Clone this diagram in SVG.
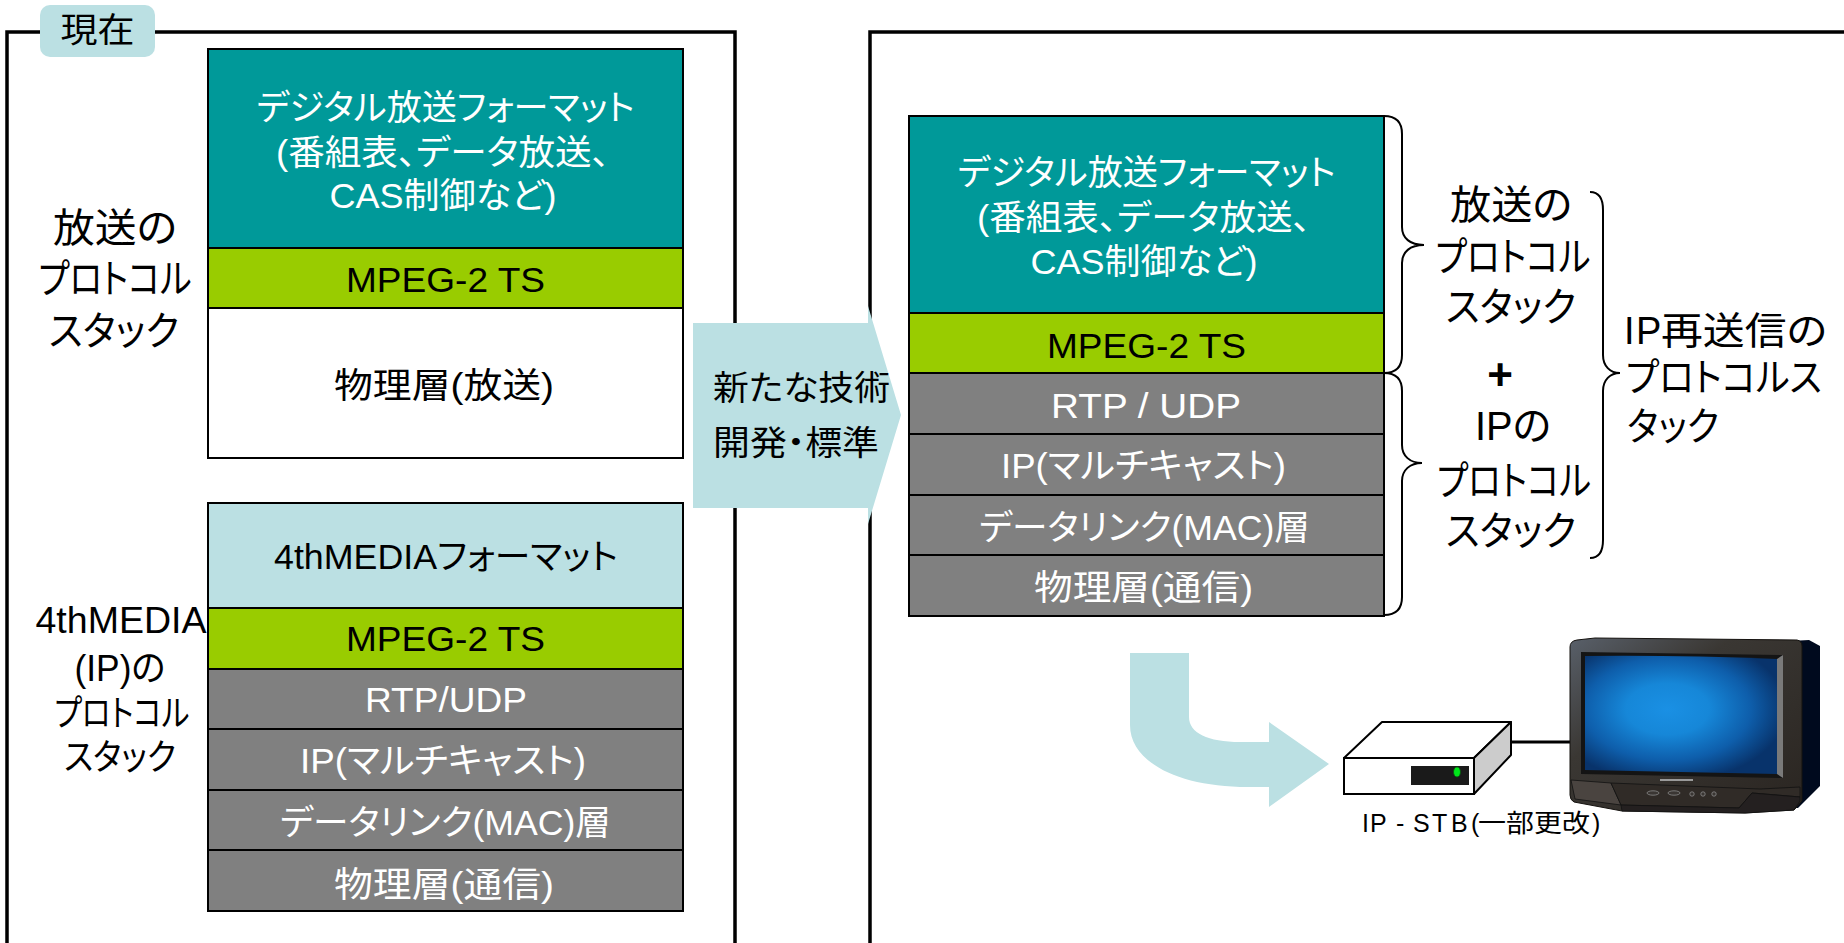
<svg xmlns="http://www.w3.org/2000/svg" width="1844" height="943" viewBox="0 0 1844 943">
  <style>
    text { font-family: "Liberation Sans", "Noto Sans CJK JP", sans-serif; text-anchor: middle; font-feature-settings: "palt"; }
    .st { font-size: 35px; }
    .lb { font-size: 40px; fill: #000; }
    .w { fill: #fff; }
    .k { fill: #000; }
    .start { text-anchor: start; }
    .frame { fill: none; stroke: #000; stroke-width: 3.5; }
    .cell { stroke: #000; stroke-width: 2; }
    .teal { fill: #009999; }
    .green { fill: #99cc00; }
    .gray { fill: #808080; }
    .white { fill: #ffffff; }
    .pale { fill: #bbe0e3; }
    .brace { fill: none; stroke: #000; stroke-width: 2; }
  </style>
  <defs>
    <radialGradient id="screenGrad" cx="0.43" cy="0.45" r="0.62">
      <stop offset="0" stop-color="#1a90e4"/>
      <stop offset="0.35" stop-color="#1687d8"/>
      <stop offset="0.7" stop-color="#0e5eab"/>
      <stop offset="1" stop-color="#08336b"/>
    </radialGradient>
    <linearGradient id="bezelGrad" x1="0" y1="0" x2="1" y2="1">
      <stop offset="0" stop-color="#59606a"/>
      <stop offset="0.35" stop-color="#3a3733"/>
      <stop offset="1" stop-color="#2a2521"/>
    </linearGradient>
  </defs>

  <!-- panel frames -->
  <g id="frames">
    <path class="frame" d="M7,943 V32 H735 V943"/>
    <path class="frame" d="M870,943 V32 H1844"/>
  </g>

  <!-- tab label of the left panel -->
  <g id="tab-current">
    <rect x="40" y="5" width="115" height="52" rx="10" class="pale"/>
    <text class="k" x="97.5" y="42" font-size="34" textLength="74" lengthAdjust="spacingAndGlyphs">現在</text>
  </g>

  <!-- broadcast protocol stack (left, upper) -->
  <g id="stack-broadcast">
    <rect class="cell teal" x="208" y="49" width="475" height="199"/>
    <rect class="cell green" x="208" y="248" width="475" height="60"/>
    <rect class="cell white" x="208" y="308" width="475" height="150"/>
    <text class="st w" x="445.5" y="120" textLength="378" lengthAdjust="spacingAndGlyphs">デジタル放送フォーマット</text>
    <text class="st w" x="443" y="165" textLength="334" lengthAdjust="spacingAndGlyphs">(番組表、データ放送、</text>
    <text class="st w" x="443" y="208" textLength="227" lengthAdjust="spacingAndGlyphs">CAS制御など)</text>
    <text class="st k" x="445.5" y="292" textLength="199" lengthAdjust="spacingAndGlyphs">MPEG-2 TS</text>
    <text class="st k" x="444" y="398" textLength="220" lengthAdjust="spacingAndGlyphs">物理層(放送)</text>
  </g>
  <g id="label-broadcast">
    <text class="lb" x="115" y="242" textLength="124" lengthAdjust="spacingAndGlyphs">放送の</text>
    <text class="lb" x="115" y="293" textLength="153" lengthAdjust="spacingAndGlyphs">プロトコル</text>
    <text class="lb" x="114" y="345" textLength="130" lengthAdjust="spacingAndGlyphs">スタック</text>
  </g>

  <!-- 4thMEDIA protocol stack (left, lower) -->
  <g id="stack-4thmedia">
    <rect class="cell pale" x="208" y="503" width="475" height="105"/>
    <rect class="cell green" x="208" y="608" width="475" height="61"/>
    <rect class="cell gray" x="208" y="669" width="475" height="60"/>
    <rect class="cell gray" x="208" y="729" width="475" height="61"/>
    <rect class="cell gray" x="208" y="790" width="475" height="60"/>
    <rect class="cell gray" x="208" y="850" width="475" height="61"/>
    <text class="st k" x="446" y="569" textLength="344" lengthAdjust="spacingAndGlyphs">4thMEDIAフォーマット</text>
    <text class="st k" x="445.5" y="651" textLength="199" lengthAdjust="spacingAndGlyphs">MPEG-2 TS</text>
    <text class="st w" x="446" y="712" textLength="162" lengthAdjust="spacingAndGlyphs">RTP/UDP</text>
    <text class="st w" x="443" y="773" textLength="286" lengthAdjust="spacingAndGlyphs">IP(マルチキャスト)</text>
    <text class="st w" x="445.5" y="835" textLength="331" lengthAdjust="spacingAndGlyphs">データリンク(MAC)層</text>
    <text class="st w" x="444" y="897" textLength="220" lengthAdjust="spacingAndGlyphs">物理層(通信)</text>
  </g>
  <g id="label-4thmedia">
    <text class="k" font-size="36" x="121" y="633" textLength="171" lengthAdjust="spacingAndGlyphs">4thMEDIA</text>
    <text class="k" font-size="36" x="120" y="681" textLength="91" lengthAdjust="spacingAndGlyphs">(IP)の</text>
    <text class="k" font-size="36" x="122" y="726" textLength="135" lengthAdjust="spacingAndGlyphs">プロトコル</text>
    <text class="k" font-size="36" x="120" y="770" textLength="112" lengthAdjust="spacingAndGlyphs">スタック</text>
  </g>

  <!-- IP retransmission protocol stack (right) -->
  <g id="stack-ip-retransmission">
    <rect class="cell teal" x="909" y="116" width="475" height="197"/>
    <rect class="cell green" x="909" y="313" width="475" height="60"/>
    <rect class="cell gray" x="909" y="373" width="475" height="61"/>
    <rect class="cell gray" x="909" y="434" width="475" height="61"/>
    <rect class="cell gray" x="909" y="495" width="475" height="60"/>
    <rect class="cell gray" x="909" y="555" width="475" height="61"/>
    <text class="st w" x="1146.5" y="185" textLength="378" lengthAdjust="spacingAndGlyphs">デジタル放送フォーマット</text>
    <text class="st w" x="1144" y="230" textLength="334" lengthAdjust="spacingAndGlyphs">(番組表、データ放送、</text>
    <text class="st w" x="1144" y="274" textLength="227" lengthAdjust="spacingAndGlyphs">CAS制御など)</text>
    <text class="st k" x="1146.5" y="358" textLength="199" lengthAdjust="spacingAndGlyphs">MPEG-2 TS</text>
    <text class="st w" x="1146" y="418" textLength="190" lengthAdjust="spacingAndGlyphs">RTP / UDP</text>
    <text class="st w" x="1143.5" y="478" textLength="285" lengthAdjust="spacingAndGlyphs">IP(マルチキャスト)</text>
    <text class="st w" x="1144.5" y="540" textLength="331" lengthAdjust="spacingAndGlyphs">データリンク(MAC)層</text>
    <text class="st w" x="1143.5" y="600" textLength="219" lengthAdjust="spacingAndGlyphs">物理層(通信)</text>
  </g>

  <!-- braces and their labels -->
  <g id="braces">
    <path class="brace" d="M1384,116 C1396,116 1402,122 1402,134 V227 C1402,238 1410,245 1424,245 C1410,245 1402,252 1402,263 V355 C1402,367 1396,373 1384,373"/>
    <path class="brace" d="M1384,373 C1396,373 1402,379 1402,391 V445 C1402,456 1410,463 1422,463 C1410,463 1402,470 1402,481 V597 C1402,609 1396,615 1384,615"/>
    <path class="brace" d="M1590,192 C1598,192 1603,198 1603,210 V355 C1603,366 1610,373 1620,373 C1610,373 1603,380 1603,391 V540 C1603,552 1598,558 1590,558"/>
  </g>
  <g id="label-broadcast-right">
    <text class="lb" x="1511" y="219" textLength="122" lengthAdjust="spacingAndGlyphs">放送の</text>
    <text class="lb" x="1513" y="271" textLength="155" lengthAdjust="spacingAndGlyphs">プロトコル</text>
    <text class="lb" x="1511" y="321" textLength="130" lengthAdjust="spacingAndGlyphs">スタック</text>
  </g>
  <text id="plus" class="k" x="1500" y="390" font-size="44" font-weight="bold">+</text>
  <g id="label-ip-right">
    <text class="lb" x="1513" y="440" textLength="76" lengthAdjust="spacingAndGlyphs">IPの</text>
    <text class="lb" x="1514" y="495" textLength="154" lengthAdjust="spacingAndGlyphs">プロトコル</text>
    <text class="lb" x="1511" y="545" textLength="130" lengthAdjust="spacingAndGlyphs">スタック</text>
  </g>
  <g id="label-ip-retransmission">
    <text class="k start" font-size="38" x="1624" y="344">I<tspan x="1636">P</tspan><tspan x="1661" textLength="166" lengthAdjust="spacingAndGlyphs">再送信の</tspan></text>
    <text class="k start" font-size="39" x="1626" y="391" textLength="196" lengthAdjust="spacingAndGlyphs">プロトコルス</text>
    <text class="k start" font-size="39" x="1627" y="440" textLength="92" lengthAdjust="spacingAndGlyphs">タック</text>
  </g>

  <!-- development arrow between panels -->
  <g id="arrow-development">
    <path class="pale" d="M693,323 H868 V306 L901,415 L868,524 V508 H693 Z"/>
    <text class="k start" font-size="34" x="713" y="400" textLength="177" lengthAdjust="spacingAndGlyphs">新たな技術</text>
    <text class="k start" font-size="34" x="713" y="455" textLength="166" lengthAdjust="spacingAndGlyphs">開発・標準</text>
  </g>

  <!-- curved arrow down to the set-top box -->
  <g id="connectors">
    <path class="pale" d="M1130,653 H1189 V717 C1189,733 1208,742 1240,742 H1269 V722 L1329,764 L1269,807 V787 H1248 C1178,787 1130,762 1130,725 Z"/>
    <line x1="1511" y1="742" x2="1572" y2="742" stroke="#000" stroke-width="3"/>
  </g>

  <!-- set-top box -->
  <g id="stb">
    <path d="M1344,758 L1382,722 H1511 L1474,758 Z" fill="#fff" stroke="#000" stroke-width="2" stroke-linejoin="round"/>
    <path d="M1474,758 L1511,722 V755 L1474,794 Z" fill="#cccccc" stroke="#000" stroke-width="2" stroke-linejoin="round"/>
    <rect x="1344" y="758" width="130" height="36" fill="#fff" stroke="#000" stroke-width="2"/>
    <rect x="1411" y="766" width="58" height="19" fill="#1a1a1a"/>
    <ellipse cx="1457" cy="772" rx="3.5" ry="5" fill="#00e61a" stroke="#0a5010" stroke-width="0.8"/>
    <text class="k start" font-size="25" y="832"><tspan x="1362">I</tspan><tspan x="1370">P</tspan><tspan x="1396">-</tspan><tspan x="1413">S</tspan><tspan x="1432">T</tspan><tspan x="1451">B</tspan><tspan x="1471">(</tspan><tspan x="1478" textLength="112" lengthAdjust="spacingAndGlyphs">一部更改</tspan><tspan x="1592">)</tspan></text>
  </g>

  <!-- television -->
  <g id="tv">
    <path d="M1790,641 L1809,640 L1820,646 V786 L1798,808 H1790 Z" fill="#000a1e"/>
    <path d="M1570,647 Q1570,641 1577,640 L1595,638 L1797,640 Q1802,641 1802,646 V801 L1794,810 L1745,813 L1622,811 L1574,802 Q1570,800 1570,795 Z" fill="url(#bezelGrad)" stroke="#15120f" stroke-width="1"/>
    <path d="M1581,652 L1783,655 V778 L1581,774 Z" fill="#141414"/>
    <path d="M1585,656 Q1680,655 1777,659 V774 Q1680,772 1585,770 Z" fill="url(#screenGrad)"/>
    <path d="M1777,659 L1783,655 V778 L1777,774 Z" fill="#7a7a7a"/>
    <path d="M1571,780 L1611,783 L1621,805 L1575,799 Z" fill="#4a4440" stroke="#111" stroke-width="0.8"/>
    <path d="M1611,783 L1760,789 L1800,787 V797 L1752,793 L1739,808 L1621,805 Z" fill="#302b27" stroke="#111" stroke-width="0.8"/>
    <path d="M1621,805 L1739,808 L1752,793 L1800,797 V801 L1794,810 L1745,813 L1622,811 Z" fill="#242020" stroke="#111" stroke-width="0.8"/>
    <rect x="1660" y="779" width="33" height="2" fill="#9a9a9a"/>
    <g fill="#3a3633" stroke="#8a8a8a" stroke-width="0.8">
      <ellipse cx="1653" cy="793" rx="6" ry="2.2"/>
      <ellipse cx="1674" cy="793" rx="6" ry="2.2"/>
      <circle cx="1692" cy="794" r="2.2"/>
      <circle cx="1703" cy="794" r="2.2"/>
      <circle cx="1714" cy="794" r="2.2"/>
    </g>
  </g>
</svg>
